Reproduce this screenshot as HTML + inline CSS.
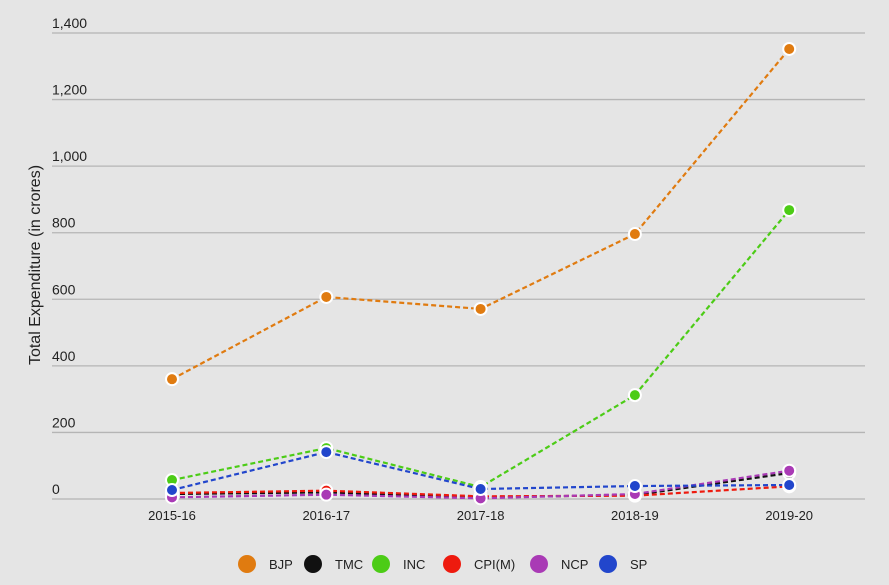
<!DOCTYPE html>
<html><head><meta charset="utf-8"><style>
body{margin:0;background:#e5e5e5;font-family:"Liberation Sans",sans-serif;}
svg text{font-family:"Liberation Sans",sans-serif;fill:#222;}
</style></head><body>
<svg width="889" height="580">
<rect width="889" height="580" fill="#e5e5e5"/>
<g id="grid"></g>
<g id="series"></g>
<text transform="translate(40,265) rotate(-90)" text-anchor="middle" font-size="16">Total Expenditure (in crores)</text>
<g id="legend"></g>
</svg>
<script>
const categories=["2015-16","2016-17","2017-18","2018-19","2019-20"];
const yTicks=[0,200,400,600,800,1000,1200,1400];
const yTickLabels=["0","200","400","600","800","1,000","1,200","1,400"];
const seriesNames=["BJP","TMC","INC","CPI(M)","NCP","SP"];
const seriesColors=["#e07b10","#111111","#4ccc16","#ee1a0e","#a93ab5","#2246cc"];
const bjp=[360,607,571,796,1352];
const tmc=[15,20,5,12,78];
const inc=[57,153,36,312,868];
const cpim=[18,25,8,10,38];
const ncp=[5,13,2,15,85];
const sp=[27,141,30,39,42];
const seriesValues=[bjp,tmc,inc,cpim,ncp,sp];
const NS="http://www.w3.org/2000/svg";
const x0=172,dx=154.3,yBase=499,yTop=33,yMax=1400;
const X=i=>x0+i*dx, Y=v=>yBase-(v/yMax)*(yBase-yTop);
function mk(t,a,p){const e=document.createElementNS(NS,t);for(const k in a)e.setAttribute(k,a[k]);p.appendChild(e);return e;}
const grid=document.getElementById('grid');
yTicks.forEach((v,i)=>{
 const l=mk('line',{x1:52,x2:865,y1:Y(v),y2:Y(v),stroke:'#b5b5b5','stroke-width':1.3},grid);
 
 
 const t=mk('text',{x:52,y:Y(v)-5,'font-size':14},grid);t.textContent=yTickLabels[i];
 
 
});
categories.forEach((c,i)=>{
 const t=mk('text',{x:X(i),y:520,'text-anchor':'middle','font-size':13},grid);t.textContent=c;
 
 
});
const sg=document.getElementById('series');
seriesValues.forEach((vals,s)=>{
 const g=mk('g',{},sg);
 
 
 const p=mk('polyline',{points:vals.map((v,i)=>X(i)+','+Y(v)).join(' '),fill:'none',stroke:seriesColors[s],'stroke-width':2.2,'stroke-dasharray':'5,3'},g);
 
 
 vals.forEach((v,i)=>{
  const c=mk('circle',{cx:X(i),cy:Y(v),r:6,fill:seriesColors[s],stroke:'#fff','stroke-width':2},g);
  
  
 });
});
const lg=document.getElementById('legend');
const lx=[247,313,381,452,539,608];
seriesNames.forEach((n,s)=>{
 const c=mk('circle',{cx:lx[s],cy:564,r:9,fill:seriesColors[s]},lg);
 
 
 const t=mk('text',{x:lx[s]+22,y:569,'font-size':13},lg);t.textContent=n;
 
 
});
</script>
</body></html>
